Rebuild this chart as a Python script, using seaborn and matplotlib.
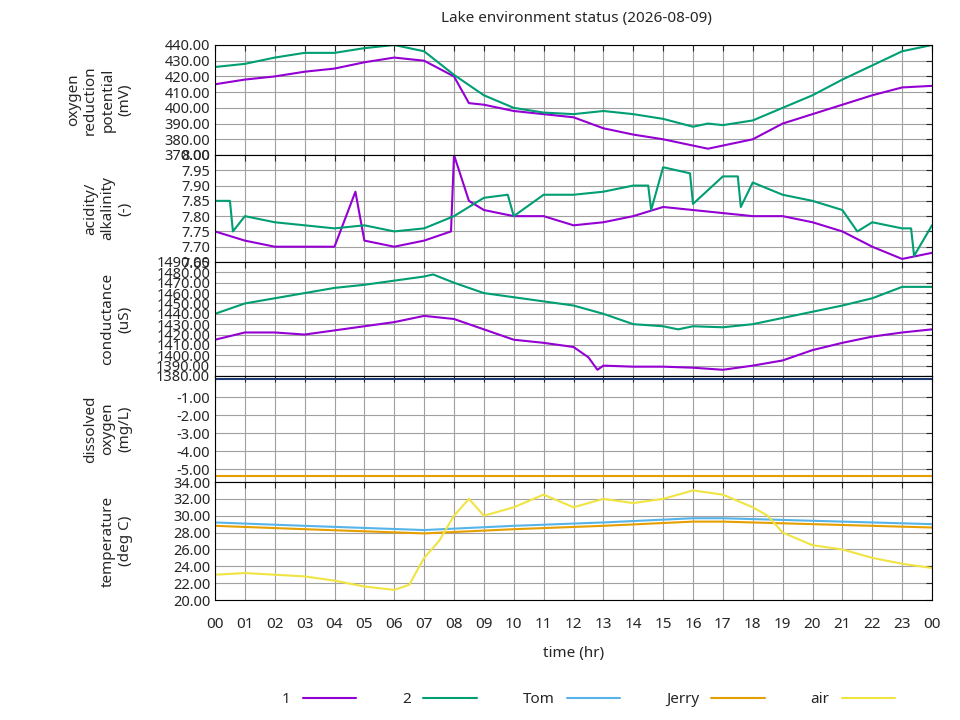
import matplotlib
matplotlib.use("Agg")
import matplotlib.pyplot as plt
import seaborn as sns
import pandas as pd
from matplotlib.ticker import FormatStrFormatter, MultipleLocator

sns.set_style("white")
plt.rcParams['font.family'] = ['Noto Sans', 'DejaVu Sans']

orp1_t = [0,1,2,3,4,5,6,7,8,8.5,9,10,11,12,13,14,15,16,16.5,17,18,19,20,21,22,23,24]
orp1_v = [415,418,420,423,425,429,432,430,420,403,402,398,396,394,387,383,380,376,374,376,380,390,396,402,408,413,414]
orp2_t = [0,1,2,3,4,5,6,7,8,9,10,11,12,13,14,15,16,16.5,17,18,19,20,21,22,23,24]
orp2_v = [426,428,432,435,435,438,440,436,421,408,400,397,396,398,396,393,388,390,389,392,400,408,418,427,436,440]

ph1_t = [0,1,2,3,4,4.7,5,6,7,7.9,8,8.5,9,10,11,12,13,14,15,16,17,18,19,20,21,22,23,24]
ph1_v = [7.75,7.72,7.70,7.70,7.70,7.88,7.72,7.70,7.72,7.75,8.00,7.85,7.82,7.80,7.80,7.77,7.78,7.80,7.83,7.82,7.81,7.80,7.80,7.78,7.75,7.70,7.66,7.68]
ph2_t = [0,0.5,0.6,1,2,3,4,5,6,7,8,9,9.8,10,11,12,13,14,14.5,14.6,15,15.9,16,17,17.5,17.6,18,19,20,21,21.5,22,23,23.3,23.4,24]
ph2_v = [7.85,7.85,7.75,7.80,7.78,7.77,7.76,7.77,7.75,7.76,7.80,7.86,7.87,7.80,7.87,7.87,7.88,7.90,7.90,7.82,7.96,7.94,7.84,7.93,7.93,7.83,7.91,7.87,7.85,7.82,7.75,7.78,7.76,7.76,7.67,7.77]

c1_t = [0,1,2,3,4,5,6,7,8,9,10,11,12,12.5,12.8,13,14,15,16,17,18,19,20,21,22,23,24]
c1_v = [1415,1422,1422,1420,1424,1428,1432,1438,1435,1425,1415,1412,1408,1398,1386,1390,1389,1389,1388,1386,1390,1395,1405,1412,1418,1422,1425]
c2_t = [0,1,2,3,4,5,6,7,7.3,8,9,10,11,12,13,14,15,15.5,16,17,18,19,20,21,22,23,24]
c2_v = [1440,1450,1455,1460,1465,1468,1472,1476,1478,1470,1460,1456,1452,1448,1440,1430,1428,1425,1428,1427,1430,1436,1442,1448,1455,1466,1466]

do_t = [0, 24]
do_hi = [0.0, 0.0]
do_lo = [-5.4, -5.4]

tom_t = [0,3,7,10,13,16,17,20,24]
tom_v = [29.2,28.8,28.3,28.8,29.2,29.7,29.7,29.4,29.0]
orng_v = [28.8,28.4,27.9,28.4,28.8,29.3,29.3,29.0,28.6]
air_t = [0,1,2,3,4,5,6,6.5,7,7.5,8,8.5,9,10,11,12,13,14,15,16,17,18,18.5,19,20,21,22,23,24]
air_v = [23,23.2,23,22.8,22.3,21.6,21.2,21.8,25,27,30,32,30,31,32.5,31,32,31.5,32,33,32.5,31,30,28,26.5,26,25,24.3,23.8]

C1, C2, CT, CJ, CA = "#9400D3", "#009E73", "#56B4E9", "#E69F00", "#F0E442"

fig = plt.figure(figsize=(9.6, 7.2), dpi=100)
L, W = 215/960, 717/960
bounds = [(45,155),(155,262),(262,376),(376,482),(482,600)]
axes = []
for top, bot in bounds:
    ax = fig.add_axes([L, 1-bot/720, W, (bot-top)/720])
    axes.append(ax)

def line(ax, t, v, c):
    sns.lineplot(x=t, y=v, ax=ax, color=c, lw=1.5, legend=False)

line(axes[0], orp1_t, orp1_v, C1); line(axes[0], orp2_t, orp2_v, C2)
axes[0].set_ylim(370, 440); axes[0].yaxis.set_major_locator(MultipleLocator(10))
line(axes[1], ph1_t, ph1_v, C1); line(axes[1], ph2_t, ph2_v, C2)
axes[1].set_ylim(7.65, 8.0); axes[1].yaxis.set_major_locator(MultipleLocator(0.05))
line(axes[2], c1_t, c1_v, C1); line(axes[2], c2_t, c2_v, C2)
axes[2].set_ylim(1380, 1490); axes[2].yaxis.set_major_locator(MultipleLocator(10))
line(axes[3], do_t, do_hi, "#1f3b73"); line(axes[3], do_t, do_lo, CJ)
axes[3].set_ylim(-5.72, 0.17); axes[3].set_yticks([-1,-2,-3,-4,-5])
line(axes[4], tom_t, tom_v, CT)
line(axes[4], tom_t, orng_v, CJ)
line(axes[4], air_t, air_v, CA)
axes[4].set_ylim(20, 34); axes[4].yaxis.set_major_locator(MultipleLocator(2))

labels = ["oxygen\nreduction\npotential\n(mV)", "acidity/\nalkalinity\n(-)", "conductance\n(uS)",
          "dissolved\noxygen\n(mg/L)", "temperature\n(deg C)"]
for ax, lab in zip(axes, labels):
    ax.set_xlim(0, 24)
    ax.set_xticks(range(25))
    ax.grid(True, color="#a0a0a0", lw=0.8)
    ax.yaxis.set_major_formatter(FormatStrFormatter("%.2f"))
    ax.tick_params(direction="in", labelsize=10.5, length=4, right=True, top=True)
    ax.set_ylabel(lab, fontsize=11)
    ax.yaxis.set_label_coords(-0.115, 0.5)
    for s in ax.spines.values():
        s.set_color("black")
    if ax is not axes[-1]:
        ax.set_xticklabels([])
axes[-1].set_xticklabels(["%02d" % (h % 24) for h in range(25)])
axes[-1].tick_params(axis="x", pad=12, labelsize=11)
axes[-1].set_xlabel("time (hr)", fontsize=11, labelpad=10)

fig.suptitle("Lake environment status (2026-08-09)", x=0.6, y=0.985, fontsize=11)

from matplotlib.lines import Line2D
handles = [Line2D([], [], color=c, lw=1.5) for c in (C1, C2, CT, CJ, CA)]
fig.legend(handles, ["1", "2", "Tom", "Jerry", "air"], loc="center", bbox_to_anchor=(0.613, 0.028),
           ncol=5, frameon=False, markerfirst=False, fontsize=11, handlelength=3.5, columnspacing=3.0)

fig.savefig("out.png", dpi=100)
